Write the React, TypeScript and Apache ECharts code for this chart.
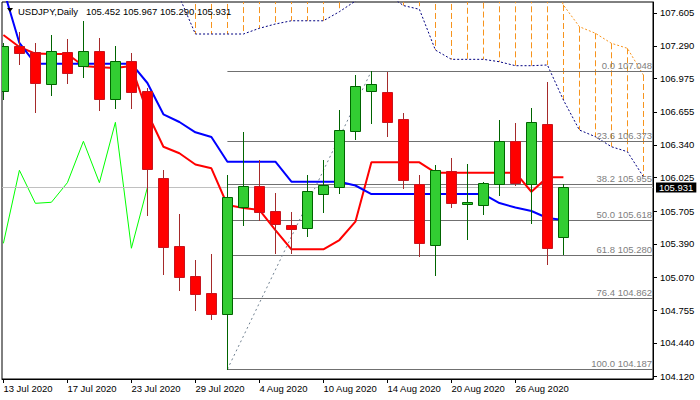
import React, { useEffect, useRef } from 'react';
import * as echarts from 'echarts';

// ---- data (daily bars, USDJPY) ----
const dates = [
  '13 Jul 2020', '14 Jul 2020', '15 Jul 2020', '16 Jul 2020', '17 Jul 2020',
  '20 Jul 2020', '21 Jul 2020', '22 Jul 2020', '23 Jul 2020', '24 Jul 2020',
  '27 Jul 2020', '28 Jul 2020', '29 Jul 2020', '30 Jul 2020', '31 Jul 2020',
  '3 Aug 2020', '4 Aug 2020', '5 Aug 2020', '6 Aug 2020', '7 Aug 2020',
  '10 Aug 2020', '11 Aug 2020', '12 Aug 2020', '13 Aug 2020', '14 Aug 2020',
  '17 Aug 2020', '18 Aug 2020', '19 Aug 2020', '20 Aug 2020', '21 Aug 2020',
  '24 Aug 2020', '25 Aug 2020', '26 Aug 2020', '27 Aug 2020', '28 Aug 2020',
  '31 Aug 2020',
];
const opens = [
  106.859, 107.288, 107.227, 106.920, 107.227, 107.093, 107.240, 106.782, 107.141, 106.859,
  106.022, 105.370, 105.082, 104.919, 104.715, 105.741, 105.945, 105.705, 105.571, 105.539,
  105.866, 105.938, 106.475, 106.853, 106.847, 106.588, 105.964, 105.376, 106.086, 105.772,
  105.760, 105.961, 106.374, 105.967, 106.540, 105.452,
];
const highs = [
  107.313, 107.422, 107.314, 107.393, 107.355, 107.528, 107.364, 107.288, 107.221, 106.885,
  106.099, 105.677, 105.235, 105.293, 106.051, 106.463, 106.194, 105.875, 105.696, 106.051,
  106.194, 106.674, 107.010, 107.048, 107.041, 106.642, 106.051, 106.144, 106.211, 106.156,
  105.985, 106.578, 106.546, 106.690, 106.945, 105.967,
];
const lows = [
  106.780, 107.112, 106.658, 106.818, 106.930, 106.988, 106.671, 106.696, 106.696, 105.667,
  105.101, 104.948, 104.756, 104.672, 104.187, 105.574, 105.619, 105.306, 105.300, 105.468,
  105.699, 105.881, 106.399, 106.552, 106.428, 105.929, 105.274, 105.094, 105.741, 105.434,
  105.677, 105.859, 105.955, 105.593, 105.194, 105.290,
];
const closes = [
  107.288, 107.218, 106.930, 107.237, 107.026, 107.237, 106.782, 107.141, 106.849, 106.111,
  105.363, 105.075, 104.912, 104.720, 105.837, 105.945, 105.699, 105.584, 105.536, 105.897,
  105.955, 106.482, 106.904, 106.923, 106.562, 105.999, 105.395, 106.096, 105.779, 105.789,
  105.977, 106.374, 105.977, 106.556, 105.348, 105.931,
];
// Ichimoku
const tenkan = [
  107.393, 107.278, 107.215, 107.211, 107.211, 107.096, 107.083, 107.077, 107.096, 106.645,
  106.322, 106.259, 106.151, 106.115, 105.763, 105.734, 105.715, 105.523, 105.338, 105.338,
  105.338, 105.427, 105.603, 106.172, 106.172, 106.172, 106.172, 106.073, 106.073, 106.073,
  106.073, 106.073, 106.073, 105.890, 106.029, 106.029,
];
const kijun = [
  107.834, 107.317, 107.118, 107.118, 107.118, 107.118, 107.118, 107.118, 107.118, 106.933,
  106.633, 106.559, 106.460, 106.415, 106.178, 106.178, 106.178, 106.178, 105.986, 105.986,
  105.986, 105.986, 105.950, 105.868, 105.868, 105.868, 105.868, 105.868, 105.868, 105.868,
  105.868, 105.782, 105.739, 105.705, 105.638, 105.619,
];
// lagging span, plotted on bars 0..9
const chikou = [105.395, 106.096, 105.779, 105.789, 105.977, 106.374, 105.977, 106.556, 105.348, 105.931];
// cloud, bars 11..40
const cloudStart = 11;
const spanA = [
  107.758, 107.403, 107.403, 107.403, 107.403, 107.458, 107.499, 107.530, 107.530, 107.530,
  107.617, 107.719, 107.825, 107.787, 107.676, 107.640, 107.249, 107.160, 107.160, 107.160,
  107.137, 107.099, 107.099, 107.106, 106.770, 106.482, 106.418, 106.322, 106.274, 106.034,
];
const spanB = [
  107.950, 107.950, 107.950, 107.950, 107.920, 107.920, 107.920, 107.920, 107.920, 107.920,
  107.880, 107.880, 107.880, 107.880, 107.880, 107.900, 107.950, 107.950, 108.000, 108.050,
  108.100, 108.100, 108.100, 108.100, 107.681, 107.473, 107.410, 107.314, 107.266, 107.010,
];
// Fibonacci retracement (31 Jul low -> 13 Aug high)
const fibRatios = [0, 23.6, 38.2, 50, 61.8, 76.4, 100];
const fibValues = [107.048, 106.373, 105.955, 105.618, 105.280, 104.862, 104.187];
const fibFromBar = 14;
const fibToBar = 23;
// axes
const yTicks = [104.12, 104.44, 104.755, 105.07, 105.39, 105.705, 106.025, 106.34, 106.655, 106.975, 107.29, 107.605];
const xTickBars = [0, 4, 8, 12, 16, 20, 24, 28, 32];
const Y_MIN = 104.094;
const Y_MAX = 107.71;
const X_MIN = -0.0875;
const X_MAX = 40.6;

const FONT = '"Liberation Sans", Arial, sans-serif';
const FS = 9.5;

export default function App() {
  const ref = useRef<HTMLDivElement>(null);
  useEffect(() => {
    if (!ref.current) return;
    const chart = echarts.init(ref.current, undefined, { renderer: 'svg' });
    const last = closes.length - 1;

    const candleData = dates.map((_, i) => [i, opens[i], closes[i], lows[i], highs[i]]);
    const cloudData = spanA.map((a, k) => [cloudStart + k, a, spanB[k]]);
    const fibData = fibValues.map((v, k) => [fibFromBar, v, k]);

    const option: any = {
      animation: false,
      backgroundColor: '#fff',
      grid: {
        left: 2, top: 2, right: 47, bottom: 21,
        show: true, borderColor: '#000', borderWidth: 1, backgroundColor: '#fff',
      },
      xAxis: {
        type: 'value', min: X_MIN, max: X_MAX,
        axisLine: { onZero: false, lineStyle: { color: '#000', width: 1 } },
        axisTick: { customValues: xTickBars, length: 4, lineStyle: { color: '#000' } },
        axisLabel: {
          customValues: xTickBars,
          formatter: (v: number) => dates[Math.round(v)] ?? '',
          align: 'left', margin: 4, color: '#000', fontFamily: FONT, fontSize: FS,
        },
        splitLine: { show: false },
      },
      yAxis: {
        type: 'value', position: 'right', min: Y_MIN, max: Y_MAX, scale: true,
        axisLine: { show: true, onZero: false, lineStyle: { color: '#000', width: 1 } },
        axisTick: { customValues: yTicks, length: 4, lineStyle: { color: '#000' } },
        axisLabel: {
          customValues: yTicks,
          formatter: (v: number) => v.toFixed(3),
          margin: 7, color: '#000', fontFamily: FONT, fontSize: FS,
        },
        splitLine: { show: false },
      },
      graphic: [
        { type: 'polygon', left: 7, top: 8, z: 100, shape: { points: [[0, 0], [6, 0], [3, 4]] }, style: { fill: '#000' } },
        {
          type: 'text', x: 18, y: 11, z: 100,
          style: { text: 'USDJPY,Daily', fill: '#000', font: `${FS}px ${FONT}`, verticalAlign: 'middle' },
        },
        {
          type: 'text', x: 86, y: 11, z: 100,
          style: {
            text: [opens[last], highs[last], lows[last], closes[last]].map((v) => v.toFixed(3)).join(' '),
            fill: '#000', font: `${FS}px ${FONT}`, verticalAlign: 'middle',
          },
        },
      ],
      series: [
        {
          type: 'custom', name: 'cloud', z: 1, clip: true, silent: true,
          encode: { x: 0, y: [1, 2] },
          data: cloudData,
          renderItem: (params: any, api: any) => {
            const x = api.value(0);
            const p1 = api.coord([x, api.value(1)]);
            const p2 = api.coord([x, api.value(2)]);
            const xx = Math.floor(p1[0]) + 0.5;
            return {
              type: 'line',
              shape: { x1: xx, y1: p2[1], x2: xx, y2: p1[1] },
              style: { stroke: '#F7941D', lineWidth: 1, lineDash: [6, 3] },
            };
          },
        },
        {
          type: 'line', name: 'Senkou A', z: 2, silent: true, symbol: 'none',
          data: spanA.map((v, k) => [cloudStart + k, v]),
          lineStyle: { color: '#000080', width: 1, type: [2, 2] },
        },
        {
          type: 'line', name: 'Senkou B', z: 2, silent: true, symbol: 'none',
          data: spanB.map((v, k) => [cloudStart + k, v]),
          lineStyle: { color: '#F7941D', width: 1, type: [2, 2] },
        },
        {
          type: 'custom', name: 'fib', z: 3, clip: true, silent: true,
          encode: { x: 0, y: 1 },
          data: fibData,
          renderItem: (params: any, api: any) => {
            const k = api.value(2);
            const p = api.coord([api.value(0), api.value(1)]);
            const cs = params.coordSys;
            const xr = cs.x + cs.width;
            const y = Math.floor(p[1]) + 0.5;
            return {
              type: 'group',
              children: [
                { type: 'line', shape: { x1: p[0], y1: y, x2: xr, y2: y }, style: { stroke: '#707070', lineWidth: 1 } },
                {
                  type: 'text', x: xr - 1, y: y - 1.5,
                  style: {
                    text: `${fibRatios[k].toFixed(1)} ${fibValues[k].toFixed(3)}`,
                    fill: '#808080', font: `${FS}px ${FONT}`, align: 'right', verticalAlign: 'bottom',
                  },
                },
              ],
            };
          },
        },
        {
          type: 'line', name: 'fib trend', z: 3, silent: true, symbol: 'none',
          data: [[fibFromBar, fibValues[fibValues.length - 1]], [fibToBar, fibValues[0]]],
          lineStyle: { color: '#708090', width: 1, type: [2, 3] },
        },
        {
          type: 'line', name: 'Chikou', z: 4, silent: true, symbol: 'none',
          data: chikou.map((v, k) => [k, v]),
          lineStyle: { color: '#00FF00', width: 1 },
          markLine: {
            silent: true, symbol: 'none', animation: false,
            data: [{ yAxis: closes[last] }],
            lineStyle: { color: '#C0C0C0', type: 'solid', width: 1 },
            label: {
              show: true, position: 'end', distance: 3,
              formatter: () => closes[last].toFixed(3),
              backgroundColor: '#000', color: '#fff', padding: [0, 3, 0, 3],
              fontFamily: FONT, fontSize: FS, lineHeight: 10,
            },
          },
        },
        {
          type: 'line', name: 'Tenkan', z: 5, silent: true, symbol: 'none',
          data: tenkan.map((v, i) => [i, v]),
          lineStyle: { color: '#FF0000', width: 2 },
        },
        {
          type: 'line', name: 'Kijun', z: 6, silent: true, symbol: 'none',
          data: kijun.map((v, i) => [i, v]),
          lineStyle: { color: '#0000FF', width: 2 },
        },
        {
          type: 'custom', name: 'candles', z: 10, clip: true, silent: true,
          encode: { x: 0, y: [1, 2, 3, 4] },
          data: candleData,
          renderItem: (params: any, api: any) => {
            const i = api.value(0);
            const o = api.value(1), c = api.value(2), l = api.value(3), h = api.value(4);
            const pO = api.coord([i, o]);
            const pC = api.coord([i, c]);
            const pL = api.coord([i, l]);
            const pH = api.coord([i, h]);
            const up = c >= o;
            const cx = Math.floor(pO[0]) + 0.5;
            const top = Math.round(Math.min(pO[1], pC[1])) + 0.5;
            const bot = Math.round(Math.max(pO[1], pC[1])) + 0.5;
            const wick = up ? '#006400' : '#A52A2A';
            return {
              type: 'group',
              children: [
                { type: 'line', shape: { x1: cx, y1: Math.round(pH[1]), x2: cx, y2: Math.round(pL[1]) + 1 }, style: { stroke: wick, lineWidth: 1 } },
                {
                  type: 'rect',
                  shape: { x: cx - 5, y: top, width: 10, height: Math.max(bot - top, 1) },
                  style: { fill: up ? '#32CD32' : '#FF0000', stroke: up ? '#006400' : '#C8141E', lineWidth: 1 },
                },
              ],
            };
          },
        },
      ],
    };
    chart.setOption(option);
    return () => chart.dispose();
  }, []);
  return (
    <div
      ref={ref}
      style={{ position: 'fixed', left: 0, top: 0, width: 700, height: 400, background: '#fff' }}
    />
  );
}
